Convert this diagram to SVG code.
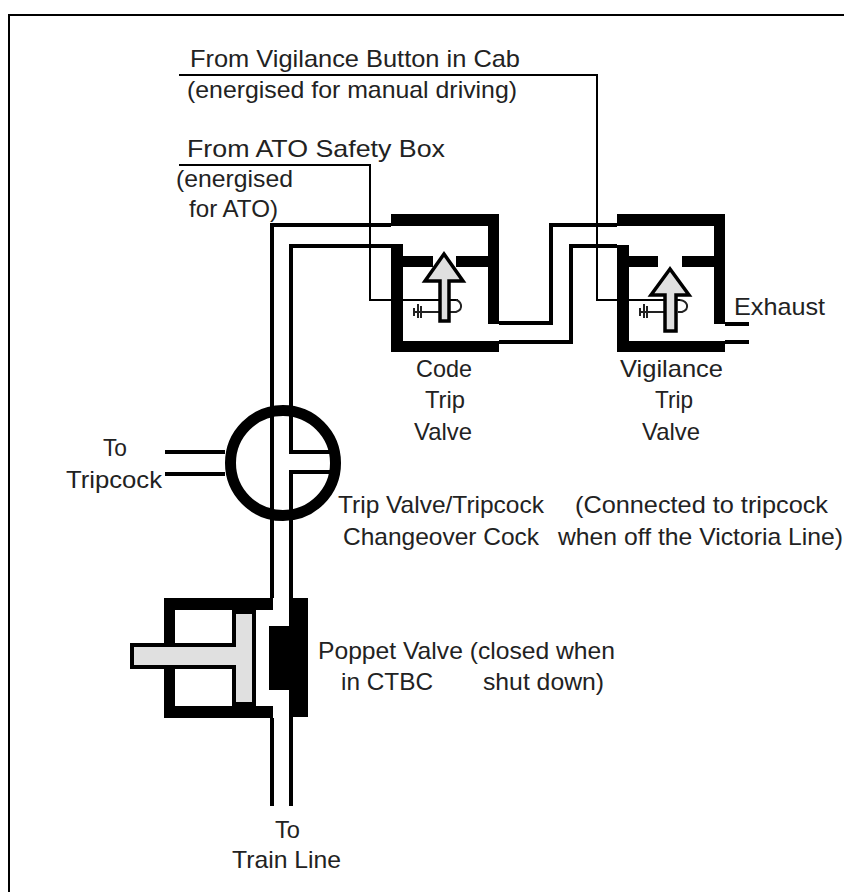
<svg xmlns="http://www.w3.org/2000/svg" width="844" height="892" viewBox="0 0 844 892">
<style>
text{font-family:"Liberation Sans",Arial,sans-serif;font-size:24px;fill:#222}
.w{fill:none;stroke:#000;stroke-width:2}
.p{fill:none;stroke:#000;stroke-width:4}
.k{fill:#000}
.g{fill:#e0e0e0;stroke:#000;stroke-width:3.5}
.t{fill:none;stroke:#222;stroke-width:2}
</style>
<rect width="844" height="892" fill="#fff"/>
<path id="frame" d="M9 892V15H844" fill="none" stroke="#000" stroke-width="2"/>
<g id="connectors">
<path class="w" d="M179 75H597V300H680"/>
<path class="w" d="M179 165H370V300H458"/>
<path class="p" d="M272 598V225H391"/>
<path class="p" d="M330 452H291V246H391M330 472H291V598"/>
<path class="p" d="M165 452H225M165 474H225"/>
<path class="p" d="M499 323H551V225H617"/>
<path class="p" d="M499 342H571V246H617"/>
<path class="p" d="M725 324H749M725 342H749"/>
<path class="p" d="M272 718V806M291 717V806"/>
</g>
<g id="code-valve">
<path class="k" d="M391 214H499V324H488V267H456V256H488V226H391ZM391 244H403V256H433V267H403V341H499V352H391Z"/>
<path class="t" d="M414 308V316M418 304V318M421 306V318M414 312H440M450 312H456Q462 310 461 305Q460 301 456 300"/>
<path class="g" d="M444 254L425 281H440V321H449V281H463Z"/>
</g>
<g id="vigilance-valve">
<path class="k" d="M617 214H725V324H714V267H682V256H714V226H617ZM617 245H629V256H658V267H629V341H725V352H617Z"/>
<path class="t" d="M640 308V316M644 304V318M647 306V318M640 312H664M678 312H682Q688 310 687 305Q686 301 680 300"/>
<path class="g" d="M670 269L651 295H665V331H676V295H689Z"/>
</g>
<g id="changeover-cock">
<circle cx="283" cy="463" r="52.5" fill="none" stroke="#000" stroke-width="11"/>
</g>
<g id="poppet-valve">
<path class="k" d="M164 598H273V610H175V706H273V718H164Z"/>
<path class="k" d="M289 598H308V717H289V690H269V626H289Z"/>
</g>
<g id="piston">
<path class="k" d="M232 610H256V706H232V669H130V643H232Z"/>
<path fill="#e0e0e0" d="M236 614H252V702H236V665H134V647H236Z"/>
</g>
<g id="labels">
<text x="190" y="67" textLength="330" lengthAdjust="spacingAndGlyphs">From Vigilance Button in Cab</text>
<text x="187" y="98" textLength="330" lengthAdjust="spacingAndGlyphs">(energised for manual driving)</text>
<text x="187" y="157" textLength="258" lengthAdjust="spacingAndGlyphs">From ATO Safety Box</text>
<text x="176" y="187" textLength="117" lengthAdjust="spacingAndGlyphs">(energised</text>
<text x="189" y="217" textLength="89" lengthAdjust="spacingAndGlyphs">for ATO)</text>
<text x="416" y="377" textLength="56" lengthAdjust="spacingAndGlyphs">Code</text>
<text x="425" y="408" textLength="40" lengthAdjust="spacingAndGlyphs">Trip</text>
<text x="414" y="440" textLength="58" lengthAdjust="spacingAndGlyphs">Valve</text>
<text x="620" y="377" textLength="103" lengthAdjust="spacingAndGlyphs">Vigilance</text>
<text x="655" y="408" textLength="38" lengthAdjust="spacingAndGlyphs">Trip</text>
<text x="642" y="440" textLength="58" lengthAdjust="spacingAndGlyphs">Valve</text>
<text x="734" y="315" textLength="91" lengthAdjust="spacingAndGlyphs">Exhaust</text>
<text x="103" y="456" textLength="24" lengthAdjust="spacingAndGlyphs">To</text>
<text x="66" y="488" textLength="96" lengthAdjust="spacingAndGlyphs">Tripcock</text>
<text x="338" y="513" textLength="206" lengthAdjust="spacingAndGlyphs">Trip Valve/Tripcock</text>
<text x="343" y="545" textLength="196" lengthAdjust="spacingAndGlyphs">Changeover Cock</text>
<text x="575" y="513" textLength="253" lengthAdjust="spacingAndGlyphs">(Connected to tripcock</text>
<text x="558" y="545" textLength="285" lengthAdjust="spacingAndGlyphs">when off the Victoria Line)</text>
<text x="318" y="659" textLength="297" lengthAdjust="spacingAndGlyphs">Poppet Valve (closed when</text>
<text x="341" y="690" textLength="92" lengthAdjust="spacingAndGlyphs">in CTBC</text>
<text x="483" y="690" textLength="121" lengthAdjust="spacingAndGlyphs">shut down)</text>
<text x="275" y="838" textLength="25" lengthAdjust="spacingAndGlyphs">To</text>
<text x="232" y="868" textLength="109" lengthAdjust="spacingAndGlyphs">Train Line</text>
</g>
</svg>
